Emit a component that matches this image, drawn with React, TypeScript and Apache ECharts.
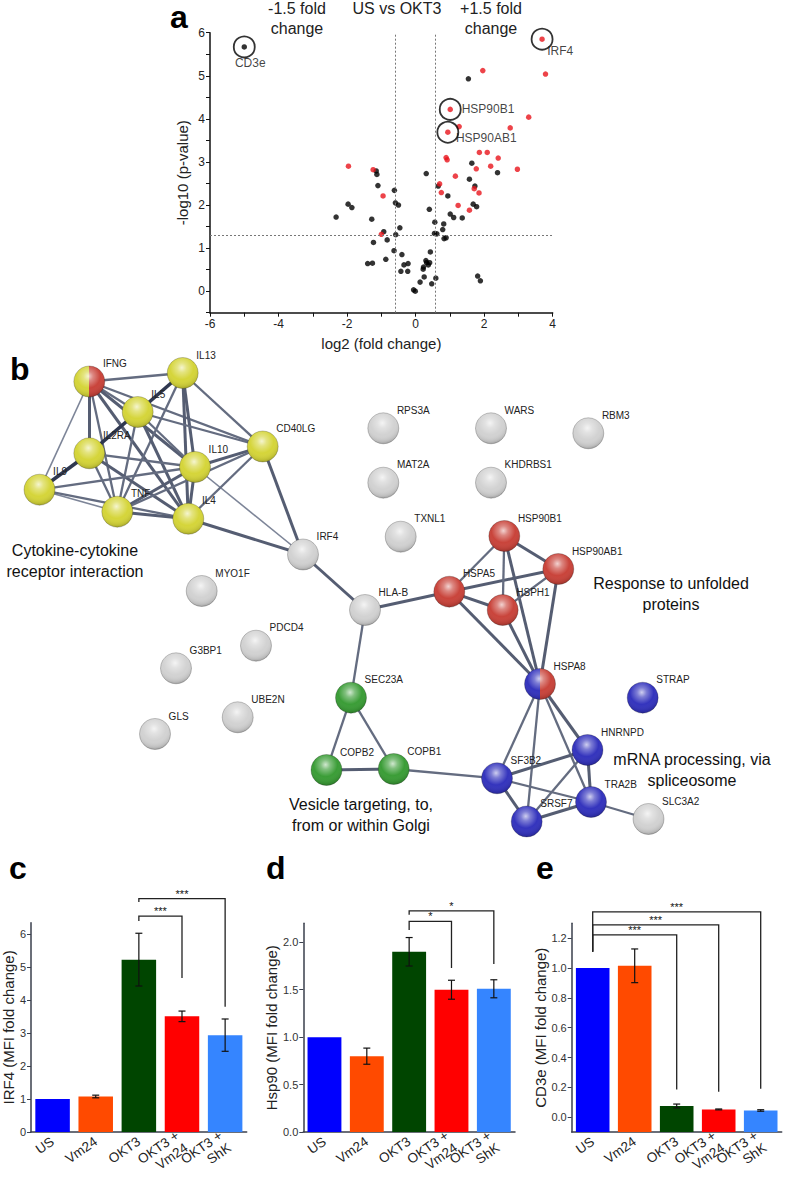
import React, { useEffect, useRef } from 'react';
import * as echarts from 'echarts';

const FONT = '"Liberation Sans", Arial, Helvetica, sans-serif';

// ---------- Panel a: volcano plot (log2 fold change, -log10 p) ----------
const blackX = [1.54, 1.64, 2.39, 0.31, 0.66, 1.57, 1.73, 0.94, 1.68, 1.78, 1.01, 1.11, 1.36, 0.40, 0.56, 0.82, 0.79, 0.55, 0.62, 0.89, 0.83, 0.43, 0.30, 0.32, 0.37, 0.23, 0.22, 0.41, 0.25, 0.59, 0.47, 0.13, -0.06, -0.01, 1.81, 1.89,
  -1.15, -1.13, -1.10, -0.62, -1.97, -1.86, -2.32, -1.28, -0.59, -0.50, -0.46, -0.58, -0.93, -0.83, -1.23, -0.63, -0.40, -0.87, -1.40, -1.26, -0.34, -0.22, -0.43, -0.23];
const blackY = [4.93, 2.97, 2.75, 2.73, 2.44, 2.60, 2.44, 2.21, 2.02, 1.96, 1.79, 1.71, 1.70, 1.90, 1.60, 1.56, 1.43, 1.34, 1.33, 1.24, 1.22, 0.91, 0.71, 0.66, 0.61, 0.56, 0.51, 0.66, 0.33, 0.30, 0.17, 0.21, 0.03, 0.00, 0.35, 0.24,
  2.79, 2.71, 2.45, 2.34, 2.02, 1.94, 1.72, 1.67, 2.05, 2.00, 1.47, 1.31, 1.38, 1.19, 1.13, 0.94, 0.85, 0.74, 0.64, 0.65, 0.61, 0.64, 0.46, 0.46];
const redX = [1.96, 3.79, 1.27, 3.30, 2.76, 0.89, 0.92, 1.86, 2.09, 2.41, 2.19, 2.97, 1.77, 1.16, 0.70, 1.71, 0.75, 1.85, 1.24, 1.57, -1.96, -1.24, -0.95, -1.00];
const redY = [5.12, 5.04, 3.82, 4.04, 3.79, 3.10, 3.05, 3.22, 3.22, 3.09, 2.90, 2.83, 2.84, 2.67, 2.49, 2.38, 2.29, 2.28, 1.99, 1.88, 2.90, 2.82, 2.21, 1.32];
const markedNames = ['CD3e', 'IRF4', 'HSP90B1', 'HSP90AB1'];
const markedX = [-5.0, 3.69, 1.01, 0.94];
const markedY = [5.67, 5.85, 4.22, 3.69];
const markedRed = [false, true, true, true];
const foldThresholds = [-0.585, 0.585];
const pThreshold = 1.3;

// ---------- Panel b: interaction network ----------
const nodeNames = ['IFNG', 'IL13', 'IL5', 'IL2RA', 'IL10', 'CD40LG', 'IL9', 'TNF', 'IL4', 'IRF4',
  'RPS3A', 'WARS', 'RBM3', 'MAT2A', 'KHDRBS1', 'TXNL1', 'HSP90B1', 'HSP90AB1', 'HSPA5', 'HSPH1',
  'HLA-B', 'MYO1F', 'PDCD4', 'G3BP1', 'UBE2N', 'GLS', 'SEC23A', 'COPB2', 'COPB1', 'HSPA8',
  'STRAP', 'HNRNPD', 'SF3B2', 'TRA2B', 'SRSF7', 'SLC3A2'];
const nodeX = [89.3, 182.7, 137.7, 89.3, 195, 262.7, 39.5, 117.3, 188.3, 303,
  383.3, 491, 588.3, 383.3, 491, 400.7, 504.3, 558.3, 449.3, 502.7,
  365, 201.7, 256, 176, 237.7, 155, 351, 326.5, 393.7, 540,
  642.7, 587.5, 497, 591, 526.7, 648.5];
const nodeY = [381.5, 373, 412, 453.3, 467, 446.5, 489.7, 511.7, 518.8, 554.5,
  428.3, 428.3, 433.3, 482.7, 482.7, 536.7, 536, 569, 591.7, 610,
  610, 591, 645.7, 668.3, 717.3, 734, 697.7, 770, 769, 684,
  697.7, 750, 778.3, 802, 821.5, 819];
const nodeGroup = ['yellow|red', 'yellow', 'yellow', 'yellow', 'yellow', 'yellow', 'yellow', 'yellow', 'yellow', 'gray',
  'gray', 'gray', 'gray', 'gray', 'gray', 'gray', 'red', 'red', 'red', 'red',
  'gray', 'gray', 'gray', 'gray', 'gray', 'gray', 'green', 'green', 'green', 'blue|red',
  'blue', 'blue', 'blue', 'blue', 'blue', 'gray'];
// [source, target, strength 1..4]
const edges: [string, string, number][] = [
  ['IFNG', 'IL13', 2], ['IFNG', 'IL9', 1], ['IFNG', 'IL2RA', 3], ['IFNG', 'TNF', 2], ['IFNG', 'IL5', 2],
  ['IFNG', 'IL10', 3], ['IFNG', 'IL4', 3], ['IFNG', 'CD40LG', 2],
  ['IL13', 'IL5', 4], ['IL13', 'IL10', 3], ['IL13', 'IL4', 3], ['IL13', 'TNF', 2], ['IL13', 'CD40LG', 2],
  ['IL5', 'IL2RA', 4], ['IL5', 'IL10', 2], ['IL5', 'IL4', 3], ['IL5', 'TNF', 2], ['IL5', 'CD40LG', 2],
  ['IL2RA', 'IL9', 4], ['IL2RA', 'IL10', 2], ['IL2RA', 'IL4', 3], ['IL2RA', 'TNF', 2],
  ['IL9', 'IL10', 2], ['IL9', 'TNF', 1], ['IL9', 'IL4', 2],
  ['IL10', 'TNF', 3], ['IL10', 'IL4', 3], ['IL10', 'CD40LG', 3], ['IL10', 'IRF4', 1],
  ['TNF', 'IL4', 3], ['TNF', 'CD40LG', 2], ['IL4', 'CD40LG', 2], ['IL4', 'IRF4', 3], ['CD40LG', 'IRF4', 3],
  ['IRF4', 'HLA-B', 3], ['HLA-B', 'HSPA5', 3], ['HLA-B', 'SEC23A', 2],
  ['SEC23A', 'COPB2', 2], ['SEC23A', 'COPB1', 2], ['COPB2', 'COPB1', 3], ['COPB1', 'SF3B2', 2],
  ['HSPA5', 'HSP90B1', 2], ['HSPA5', 'HSP90AB1', 3], ['HSPA5', 'HSPH1', 3], ['HSPA5', 'HSPA8', 3],
  ['HSP90B1', 'HSPH1', 2], ['HSP90B1', 'HSPA8', 3], ['HSP90B1', 'HSP90AB1', 3],
  ['HSPH1', 'HSP90AB1', 2], ['HSPH1', 'HSPA8', 3], ['HSP90AB1', 'HSPA8', 3],
  ['HSPA8', 'SF3B2', 2], ['HSPA8', 'SRSF7', 2], ['HSPA8', 'HNRNPD', 3], ['HSPA8', 'TRA2B', 2],
  ['SF3B2', 'HNRNPD', 3], ['SF3B2', 'TRA2B', 2], ['SF3B2', 'SRSF7', 3],
  ['HNRNPD', 'TRA2B', 3], ['HNRNPD', 'SRSF7', 2], ['TRA2B', 'SRSF7', 3], ['TRA2B', 'SLC3A2', 2],
];
const clusterLabels = [
  { text: 'Cytokine-cytokine\nreceptor interaction', x: 75, y: 561 },
  { text: 'Response to unfolded\nproteins', x: 671, y: 594 },
  { text: 'mRNA processing, via\nspliceosome', x: 692, y: 770 },
  { text: 'Vesicle targeting, to,\nfrom or within Golgi', x: 361, y: 815 },
];

// ---------- Panels c, d, e: bar charts ----------
const barCats = ['US', 'Vm24', 'OKT3', 'OKT3 +\nVm24', 'OKT3 +\nShK'];
const barColors = ['#0000fe', '#ff4a00', '#004500', '#ff0000', '#3585ff'];
const irf4Mean = [1.0, 1.08, 5.23, 3.51, 2.94];
const irf4Err = [0, 0.04, 0.8, 0.16, 0.49];
const hsp90Mean = [1.0, 0.80, 1.90, 1.50, 1.51];
const hsp90Err = [0, 0.085, 0.15, 0.10, 0.095];
const cd3eMean = [1.0, 1.015, 0.075, 0.052, 0.045];
const cd3eErr = [0, 0.113, 0.013, 0.003, 0.005];
// [fromCat, toCat, barTop, leftEnd, rightEnd]
const irf4Brackets = [[2, 4, 7.08, 6.98, 3.80], [2, 3, 6.55, 6.40, 4.67]];
const irf4Stars = ['***', '***'];
const hsp90Brackets = [[2, 4, 2.33, 2.29, 1.77], [2, 3, 2.22, 2.13, 1.73]];
const hsp90Stars = ['*', '*'];
const cd3eBrackets = [[0, 2, 1.223, 1.11, 0.185], [0, 3, 1.289, 1.11, 0.17], [0, 4, 1.377, 1.11, 0.19]];
const cd3eStars = ['***', '***', '***'];
const irf4Ticks = [0, 1, 2, 3, 4, 5, 6];
const hsp90Ticks = [0, 0.5, 1.0, 1.5, 2.0];
const cd3eTicks = [0, 0.2, 0.4, 0.6, 0.8, 1.0, 1.2];

const baseColors: Record<string, string> = {
  yellow: '#d5d53a', gray: '#d2d2d2', red: '#c9443b', green: '#3b9d37', blue: '#3434bd',
};
function nodeFill(g: string): any {
  if (g.includes('|')) {
    const [a, b] = g.split('|');
    return {
      type: 'linear', x: 0, y: 0, x2: 1, y2: 0,
      colorStops: [
        { offset: 0, color: baseColors[a] }, { offset: 0.5, color: baseColors[a] },
        { offset: 0.5, color: baseColors[b] }, { offset: 1, color: baseColors[b] },
      ],
    };
  }
  return baseColors[g];
}
const gloss = {
  type: 'radial', x: 0.47, y: 0.33, r: 0.7,
  colorStops: [
    { offset: 0, color: 'rgba(255,255,255,0.95)' },
    { offset: 0.22, color: 'rgba(255,255,255,0.45)' },
    { offset: 0.55, color: 'rgba(255,255,255,0.0)' },
    { offset: 0.85, color: 'rgba(0,0,0,0.12)' },
    { offset: 1, color: 'rgba(0,0,0,0.35)' },
  ],
};
function edgeStyle(w: number) {
  if (w === 1) return { width: 1.6, color: '#7d8598' };
  if (w === 2) return { width: 2.3, color: '#646c80' };
  if (w === 3) return { width: 3.0, color: '#555d72' };
  return { width: 3.6, color: '#2f3850' };
}

function errRender(_params: any, api: any) {
  const x = api.value(0);
  const lo = api.coord([x, api.value(1)]);
  const hi = api.coord([x, api.value(2)]);
  const hw = 3.5;
  const st = { stroke: '#111', lineWidth: 1.2 };
  return {
    type: 'group',
    children: [
      { type: 'line', shape: { x1: lo[0], y1: lo[1], x2: hi[0], y2: hi[1] }, style: st },
      { type: 'line', shape: { x1: lo[0] - hw, y1: lo[1], x2: lo[0] + hw, y2: lo[1] }, style: st },
      { type: 'line', shape: { x1: hi[0] - hw, y1: hi[1], x2: hi[0] + hw, y2: hi[1] }, style: st },
    ],
  };
}
function bracketRender(_params: any, api: any) {
  const x1 = api.value(0), x2 = api.value(1), top = api.value(2);
  const a0 = api.coord([x1, api.value(3)]);
  const a = api.coord([x1, top]);
  const b = api.coord([x2, top]);
  const b0 = api.coord([x2, api.value(4)]);
  return { type: 'polyline', shape: { points: [a0, a, b, b0] }, style: { stroke: '#222', lineWidth: 1.3, fill: 'none' } };
}
function starRender(stars: string[]) {
  return (params: any, api: any) => {
    const a = api.coord([api.value(0), api.value(2)]);
    const b = api.coord([api.value(1), api.value(2)]);
    return {
      type: 'text',
      x: (a[0] + b[0]) / 2, y: a[1] - 5,
      style: {
        text: stars[params.dataIndex], align: 'center', verticalAlign: 'middle',
        fontSize: 11, fontFamily: FONT, fill: '#111',
      },
    };
  };
}

const axisLineDark = { lineStyle: { color: '#3a3f4c', width: 1.5 } };

function barXAxis(gridIndex: number) {
  return {
    type: 'category', gridIndex, data: barCats,
    axisLine: { ...axisLineDark, onZero: false },
    axisTick: { show: false },
    axisLabel: { interval: 0, hideOverlap: false, rotate: 35, fontSize: 13.5, color: '#222', fontFamily: FONT, margin: 8, lineHeight: 15 },
  };
}
function barYAxis(gridIndex: number, min: number, max: number, ticks: number[], name: string, dec: number, nameGap: number) {
  return {
    type: 'value', gridIndex, min, max, startValue: min, name, nameLocation: 'middle', nameGap,
    nameTextStyle: { fontSize: 15, color: '#222', fontFamily: FONT },
    axisLine: { show: true, ...axisLineDark, onZero: false },
    axisTick: { show: true, length: 4, customValues: ticks, lineStyle: { color: '#3a3f4c' } },
    axisLabel: { customValues: ticks, fontSize: 11, color: '#333', fontFamily: FONT, margin: 5, formatter: (v: number) => v.toFixed(dec) },
    splitLine: { show: false },
  };
}
function barSeries(idx: number, mean: number[], err: number[], brackets: number[][], stars: string[]) {
  return [
    {
      type: 'bar', xAxisIndex: idx, yAxisIndex: idx, barCategoryGap: '20%', silent: true,
      data: mean.map((v, i) => ({ value: v, itemStyle: { color: barColors[i] } })),
    },
    {
      type: 'custom', xAxisIndex: idx, yAxisIndex: idx, silent: true, z: 5,
      itemStyle: { color: '#111' },
      data: mean.map((m, i) => [i, m - err[i], m + err[i], err[i]]).filter((d) => d[3] > 0),
      renderItem: errRender,
    },
    {
      type: 'custom', xAxisIndex: idx, yAxisIndex: idx, silent: true, z: 6, clip: false,
      itemStyle: { color: '#222' },
      data: brackets, renderItem: bracketRender,
    },
    {
      type: 'custom', xAxisIndex: idx, yAxisIndex: idx, silent: true, z: 7, clip: false,
      itemStyle: { color: '#111' },
      data: brackets, renderItem: starRender(stars),
    },
  ];
}

function panelLetter(t: string, x: number, y: number) {
  return { type: 'text', x, y, style: { text: t, font: `bold 32px ${FONT}`, verticalAlign: 'middle', fill: '#000' } };
}
function plainText(t: string, x: number, y: number) {
  return { type: 'text', x, y, style: { text: t, align: 'center', verticalAlign: 'middle', fontSize: 16, lineHeight: 14, fontFamily: FONT, fill: '#222' } };
}

export default function App() {
  const ref = useRef<HTMLDivElement>(null);
  useEffect(() => {
    if (!ref.current) return;
    const chart = echarts.init(ref.current, undefined, { renderer: 'svg' });
    const markedLabel = [
      { position: 'bottom', distance: -1, offset: [6, 0] },
      { position: [16.5, 23.5], align: 'left', verticalAlign: 'middle' },
      { position: 'right', distance: 0 },
      { position: [19.5, 17], align: 'left', verticalAlign: 'middle' },
    ];
    const option: any = {
      animation: false,
      textStyle: { fontFamily: FONT },
      grid: [
        { left: 210, top: 32.7, width: 342.7, height: 280 },
        { left: 0, top: 340, width: 787, height: 500 },
        { left: 29.3, top: 922.7, width: 217.4, height: 210.6 },
        { left: 303.3, top: 923.3, width: 211.7, height: 211 },
        { left: 571.7, top: 923.3, width: 210, height: 210 },
      ],
      xAxis: [
        {
          type: 'value', gridIndex: 0, min: -6, max: 4, interval: 1,
          name: 'log2 (fold change)', nameLocation: 'middle', nameGap: 23,
          nameTextStyle: { fontSize: 15, color: '#222', fontFamily: FONT },
          axisLine: { lineStyle: { color: '#111', width: 1.5 }, onZero: false },
          axisTick: { length: 4, lineStyle: { color: '#111' } },
          axisLabel: { fontSize: 12, color: '#222', margin: 5, formatter: (v: number) => (v % 2 === 0 ? String(v) : '') },
          splitLine: { show: false },
        },
        { type: 'value', gridIndex: 1, min: 0, max: 787, show: false },
        barXAxis(2), barXAxis(3), barXAxis(4),
      ],
      yAxis: [
        {
          type: 'value', gridIndex: 0, min: -0.5, max: 6, interval: 0.5,
          name: '-log10 (p-value)', nameLocation: 'middle', nameGap: 20,
          nameTextStyle: { fontSize: 15, color: '#222', fontFamily: FONT },
          axisLine: { show: true, lineStyle: { color: '#111', width: 1.5 }, onZero: false },
          axisTick: { length: 4, lineStyle: { color: '#111' } },
          axisLabel: { fontSize: 12, color: '#222', margin: 5, formatter: (v: number) => (Number.isInteger(v) && v >= 0 ? String(v) : '') },
          splitLine: { show: false },
        },
        { type: 'value', gridIndex: 1, min: 340, max: 840, inverse: true, show: false },
        barYAxis(2, 0, 6.35, irf4Ticks, 'IRF4 (MFI fold change)', 0, 15),
        barYAxis(3, 0, 2.2, hsp90Ticks, 'Hsp90 (MFI fold change)', 1, 22),
        barYAxis(4, -0.1, 1.3, cd3eTicks, 'CD3e (MFI fold change)', 1, 22),
      ],
      series: [
        {
          type: 'scatter', xAxisIndex: 0, yAxisIndex: 0, symbolSize: 5.5, silent: true,
          itemStyle: { color: '#000' },
          data: blackX.map((x, i) => [x, blackY[i]]),
          markLine: {
            silent: true, symbol: ['none', 'none'], label: { show: false },
            lineStyle: { type: [2, 2], color: '#777', width: 1 },
            data: [...foldThresholds.map((v) => ({ xAxis: v })), { yAxis: pThreshold }],
          },
        },
        {
          type: 'scatter', xAxisIndex: 0, yAxisIndex: 0, symbolSize: 5.5, silent: true,
          itemStyle: { color: '#e8141c' },
          data: redX.map((x, i) => [x, redY[i]]),
        },
        {
          type: 'scatter', xAxisIndex: 0, yAxisIndex: 0, symbolSize: 5.5, silent: true, z: 4,
          data: markedX.map((x, i) => ({ value: [x, markedY[i]], itemStyle: { color: markedRed[i] ? '#e8141c' : '#000' } })),
        },
        {
          type: 'scatter', xAxisIndex: 0, yAxisIndex: 0, symbolSize: 21, silent: true, z: 5,
          itemStyle: { color: 'rgba(0,0,0,0)', borderColor: '#000', borderWidth: 1.8 },
          data: markedX.map((x, i) => ({
            name: markedNames[i], value: [x, markedY[i]],
            label: { show: true, formatter: '{b}', fontSize: 12, color: '#111', fontFamily: FONT, ...markedLabel[i] },
          })),
        },
        {
          type: 'graph', coordinateSystem: 'cartesian2d', xAxisIndex: 1, yAxisIndex: 1,
          layout: 'none', symbol: 'circle', symbolSize: 31, silent: true, z: 2,
          emphasis: { disabled: true },
          data: nodeNames.map((n, i) => ({
            name: n, value: [nodeX[i], nodeY[i]],
            itemStyle: { color: nodeFill(nodeGroup[i]), borderColor: 'rgba(0,0,0,0.28)', borderWidth: 0.8 },
          })),
          links: edges.map(([s, t, w]) => ({ source: s, target: t, lineStyle: { ...edgeStyle(w), opacity: 1 } })),
          lineStyle: { opacity: 1, curveness: 0 },
          label: {
            show: true, formatter: '{b}', position: [29.5, -2], align: 'left', verticalAlign: 'middle',
            fontSize: 10, color: '#222', fontFamily: FONT,
          },
        },
        {
          type: 'scatter', xAxisIndex: 1, yAxisIndex: 1, symbolSize: 31, silent: true, z: 3,
          itemStyle: { color: gloss },
          data: nodeX.map((x, i) => [x, nodeY[i]]),
        },
        ...barSeries(2, irf4Mean, irf4Err, irf4Brackets, irf4Stars),
        ...barSeries(3, hsp90Mean, hsp90Err, hsp90Brackets, hsp90Stars),
        ...barSeries(4, cd3eMean, cd3eErr, cd3eBrackets, cd3eStars),
      ],
      graphic: [
        panelLetter('a', 170, 17),
        panelLetter('b', 10, 369),
        panelLetter('c', 9, 868),
        panelLetter('d', 266, 868),
        panelLetter('e', 536, 868),
        plainText('-1.5 fold', 297, 8),
        plainText('change', 297, 28),
        plainText('US vs OKT3', 397, 8),
        plainText('+1.5 fold', 491, 8),
        plainText('change', 491, 28),
        ...clusterLabels.map((c) => ({
          type: 'text', x: c.x, y: c.y,
          style: { text: c.text, align: 'center', verticalAlign: 'middle', fontSize: 16, lineHeight: 21, fontFamily: FONT, fill: '#111' },
        })),
      ],
    };
    chart.setOption(option);
    return () => chart.dispose();
  }, []);
  return <div ref={ref} style={{ position: 'absolute', left: 0, top: 0, width: 787, height: 1181 }} />;
}
